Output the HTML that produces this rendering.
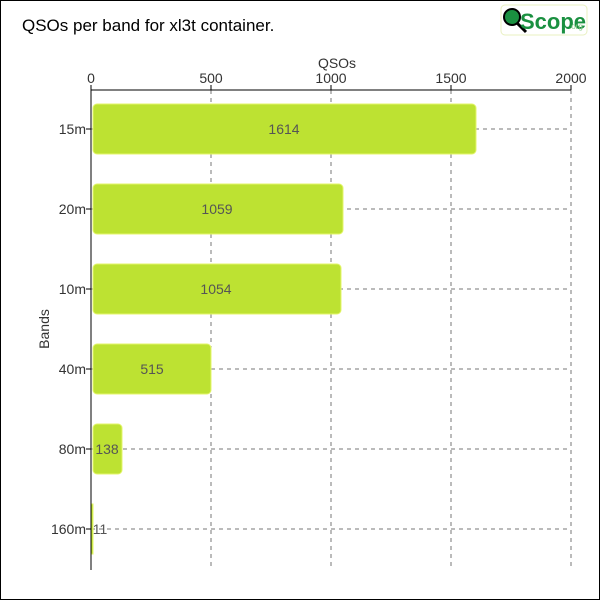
<!DOCTYPE html>
<html><head><style>body{margin:0}svg{display:block}text{font-family:"Liberation Sans",sans-serif}</style></head><body>
<svg width="600" height="600" xmlns="http://www.w3.org/2000/svg">
<rect x="0.5" y="0.5" width="599" height="599" fill="#fff" stroke="#000"/>
<text x="22" y="31" font-size="17" fill="#000">QSOs per band for xl3t container.</text>
<rect x="501" y="5" width="86" height="30" rx="4" fill="#fff" stroke="#e8f0c0"/>
<circle cx="512" cy="17" r="8" fill="#1a9040" stroke="#000" stroke-width="2"/>
<line x1="517" y1="23" x2="526" y2="32" stroke="#000" stroke-width="3"/>
<text x="520" y="29" font-size="22" fill="#1a9040" font-weight="bold">Scope</text>
<text x="569" y="29" font-size="8" fill="#8c8">.org</text>
<g stroke="#777" stroke-dasharray="4,4">
<line x1="211" y1="90" x2="211" y2="570"/><line x1="331" y1="90" x2="331" y2="570"/><line x1="451" y1="90" x2="451" y2="570"/><line x1="571" y1="90" x2="571" y2="570"/>
<line x1="91" y1="129" x2="571" y2="129"/><line x1="91" y1="209" x2="571" y2="209"/><line x1="91" y1="289" x2="571" y2="289"/><line x1="91" y1="369" x2="571" y2="369"/><line x1="91" y1="449" x2="571" y2="449"/><line x1="91" y1="529" x2="571" y2="529"/>
</g>
<g fill="#bde232" stroke="#e4f56a">
<rect x="93" y="104" width="383" height="50" rx="4"/>
<rect x="93" y="184" width="250" height="50" rx="4"/>
<rect x="93" y="264" width="248" height="50" rx="4"/>
<rect x="93" y="344" width="118" height="50" rx="4"/>
<rect x="93" y="424" width="29" height="50" rx="4"/>
<rect x="91" y="504" width="2" height="50"/>
</g>
<g stroke="#000"><line x1="91" y1="90" x2="571" y2="90"/><line x1="91" y1="90" x2="91" y2="570"/>
<line x1="91" y1="85" x2="91" y2="90"/><line x1="211" y1="85" x2="211" y2="90"/><line x1="331" y1="85" x2="331" y2="90"/><line x1="451" y1="85" x2="451" y2="90"/><line x1="571" y1="85" x2="571" y2="90"/>
<line x1="86" y1="129" x2="91" y2="129"/><line x1="86" y1="209" x2="91" y2="209"/><line x1="86" y1="289" x2="91" y2="289"/><line x1="86" y1="369" x2="91" y2="369"/><line x1="86" y1="449" x2="91" y2="449"/><line x1="86" y1="529" x2="91" y2="529"/></g>
<g font-size="14" fill="#333" text-anchor="middle">
<text x="91" y="83">0</text><text x="211" y="83">500</text><text x="331" y="83">1000</text><text x="451" y="83">1500</text><text x="571" y="83">2000</text>
<text x="337" y="68">QSOs</text>
</g>
<g font-size="14" fill="#333" text-anchor="end">
<text x="86" y="134">15m</text><text x="86" y="214">20m</text><text x="86" y="294">10m</text><text x="86" y="374">40m</text><text x="86" y="454">80m</text><text x="86" y="534">160m</text>
</g>
<text transform="translate(49,329) rotate(-90)" font-size="14" fill="#333" text-anchor="middle">Bands</text>
<g font-size="14" fill="#555" text-anchor="middle">
<text x="284" y="134">1614</text><text x="217" y="214">1059</text><text x="216" y="294">1054</text><text x="152" y="374">515</text><text x="107" y="454">138</text><text x="100" y="534">11</text>
</g>
</svg>
</body></html>
